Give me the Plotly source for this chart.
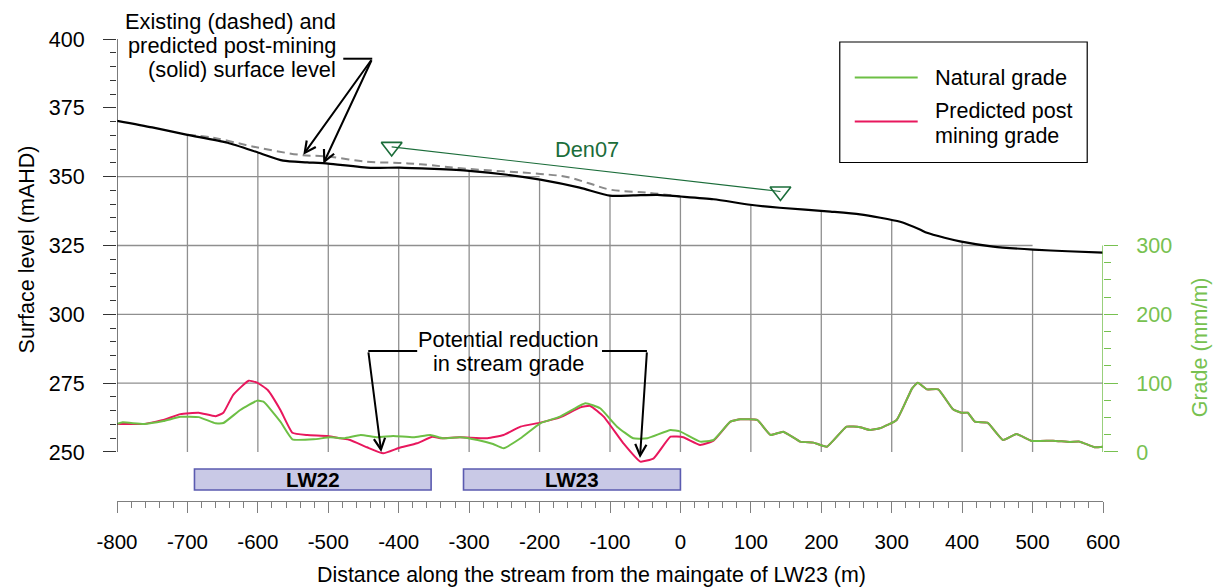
import numpy as np
import plotly.graph_objects as go

# ---------------- data ----------------
# Surface level (mAHD)
surf_x = [-800, -750, -700, -643, -599, -564, -530, -500, -440, -399, -350, -300, -246, -199,
          -143, -100, -67, -33, 0, 47, 99, 141, 213, 255, 312, 340, 350, 375, 397, 444, 501, 550, 600]
surf_post = [370.3, 367.9, 365.2, 362.3, 358.7, 355.8, 355.2, 354.7, 353.2, 353.3, 352.8, 352.1, 350.7, 348.9,
             346.0, 343.1, 343.2, 343.4, 342.8, 341.8, 339.8, 338.7, 337.3, 336.3, 333.6, 330.8, 329.6, 327.8,
             326.5, 324.6, 323.5, 322.9, 322.4]

exist_x = [-700, -663, -606, -540, -500, -445, -400, -369, -300, -199, -161, -130, -100, -47, 0]
exist_y = [365.2, 364.1, 360.9, 357.9, 357.3, 355.4, 355.0, 354.5, 352.8, 351.0, 349.9, 347.6, 345.3, 344.2, 342.8]

# Grade (mm/m)
nat_x = [-800, -792, -762, -734, -710, -684, -660, -649, -625, -601, -592, -568, -551, -521, -497, -478,
         -454, -430, -408, -379, -355, -337, -313, -288, -266, -251, -227, -199, -171, -135, -114, -90,
         -67, -47, -14, 0, 28, 47, 71, 85, 109, 128, 146, 170, 189, 208, 236, 255, 269, 283, 307, 329,
         337, 350, 366, 387, 399, 408, 418, 436, 458, 477, 499, 529, 553, 567, 588, 600]
nat_g = [40.7, 43, 40.7, 45, 51, 50.6, 41.6, 42, 61, 74.6, 73, 44, 18.4, 18.4, 21.3, 19.9,
         24.7, 21.4, 23.3, 21.4, 24.7, 19.9, 21.4, 17.4, 11.6, 5.4, 19.9, 41.7, 51.3, 70.8, 63.5, 36.8,
         19.9, 19.9, 32, 29.5, 15, 17.4, 44, 47.5, 46.5, 24.7, 29.5, 15, 13.6, 7.7, 36.8, 35.9, 32, 34.4, 46.5, 92.5,
         100.7, 91, 91, 62, 57, 57, 44, 42.6, 17.4, 26, 16, 16.4, 14.5, 15, 6.8, 7.7]

pred_x = [-800, -762, -734, -710, -684, -660, -649, -635, -613, -601, -586, -568, -551, -530, -501, -483,
          -469, -445, -422, -400, -374, -352, -341, -313, -274, -251, -227, -199, -171, -142, -128, -109,
          -81, -57, -38, -14, 4, 28, 47, 71, 85, 109, 128, 146, 170, 189, 208, 236, 255, 269, 283, 307,
          329, 337, 350, 366, 387, 399, 408, 418, 436, 458, 477, 499, 529, 553, 567, 588, 600]
pred_g = [40.7, 40.7, 46.5, 55, 57, 52, 57, 83, 103.6, 100.7, 90, 61, 28, 24.7, 23.3, 19.9,
          17.4, 6.8, -2, 5.8, 12.6, 22, 19.9, 21.4, 19.9, 24.7, 36.8, 42.6, 50.2, 64.8, 66.9, 51.3,
          12.6, -14, -9.2, 22.2, 21.4, 10.2, 16.4, 44, 47.5, 46.5, 24.7, 29.5, 15, 13.6, 7.7, 36.8, 35.9, 32, 34.4, 46.5,
          92.5, 100.7, 91, 91, 62, 57, 57, 44, 42.6, 17.4, 26, 16, 16.4, 14.5, 15, 6.8, 7.7]

den07_x = [-410, 142]
den07_y = [360.8, 344.6]

panel_names = ["LW22", "LW23"]
panel_start = [-690, -308]
panel_end = [-354, 0]

x_ticks = list(range(-800, 601, 100))
x_ticktext = [str(v) for v in x_ticks]
y_ticks = list(range(250, 401, 25))
g_ticks = [0, 100, 200, 300]

# ---------------- layout geometry ----------------
W, H = 1218, 588
L, R, T, B = 116.5, 114.5, 39.3, 87
Y_RANGE = [232.19, 400]
Y2_RANGE = [(Y_RANGE[0] - 250) * 4, (Y_RANGE[1] - 250) * 4]
PW, PH = W - L - R, H - T - B

def paper_x(px):
    return (px - L) / PW

def paper_y(py):
    return (H - B - py) / PH

def data_x(px):
    return -800 + (px - L) * 1400 / PW

def data_y(py):
    return Y_RANGE[1] - (py - T) * (Y_RANGE[1] - Y_RANGE[0]) / PH

FONT = "Liberation Sans, Arial, sans-serif"
GREEN = "#6dbf45"
AXGREEN = "#77c150"
PINK = "#e8175d"
DKGREEN = "#1b6d3a"
GRID = "#8f8f8f"
TXT = 21.8

fig = go.Figure()

fig.add_trace(go.Scatter(x=exist_x, y=exist_y, mode="lines", line=dict(color="#8a8a8a", width=2, dash="8px,5px"),
                         line_shape="spline", showlegend=False, hoverinfo="skip"))
fig.add_trace(go.Scatter(x=surf_x, y=surf_post, mode="lines", line=dict(color="black", width=2.2, shape="spline", smoothing=0.6),
                         showlegend=False))
fig.add_trace(go.Scatter(x=den07_x, y=den07_y, mode="lines+markers", line=dict(color=DKGREEN, width=1.1),
                         marker=dict(symbol="triangle-down-open", size=18, color=DKGREEN, line=dict(width=1.6, color=DKGREEN)),
                         showlegend=False, cliponaxis=False))
fig.add_trace(go.Scatter(x=pred_x, y=pred_g, yaxis="y2", mode="lines", line=dict(color=PINK, width=2, shape="spline", smoothing=0.4),
                         name="Predicted post<br>mining grade", showlegend=False))
fig.add_trace(go.Scatter(x=nat_x, y=nat_g, yaxis="y2", mode="lines", line=dict(color=GREEN, width=2, shape="spline", smoothing=0.4),
                         name="Natural grade", showlegend=False))

shapes = []
# grid under the surface
for gx in range(-700, 501, 100):
    top = float(np.interp(gx, surf_x, surf_post))
    shapes.append(dict(type="line", xref="x", yref="y", x0=gx, x1=gx, y0=250, y1=top,
                       line=dict(color=GRID, width=1.3), layer="below"))
for lvl in [275, 300, 325, 350]:
    end = 600
    for gx in range(-700, 601, 100):
        if np.interp(gx, surf_x, surf_post) < lvl:
            end = gx
            break
    shapes.append(dict(type="line", xref="x", yref="y", x0=-800, x1=end, y0=lvl, y1=lvl,
                       line=dict(color=GRID, width=1.3), layer="below"))
# axis lines
shapes.append(dict(type="line", xref="x", yref="y", x0=-800, x1=-800, y0=250, y1=400, line=dict(color="#333333", width=1.3)))
shapes.append(dict(type="line", xref="x", yref="y2", x0=600, x1=600, y0=0, y1=300, line=dict(color=AXGREEN, width=1.5)))
# longwall panels
for nm, a, b in zip(panel_names, panel_start, panel_end):
    shapes.append(dict(type="rect", xref="x", yref="y", x0=a, x1=b, y0=data_y(490), y1=data_y(469),
                       fillcolor="#c9c9e6", line=dict(color="#5b5bb0", width=1.6)))
# legend box
shapes.append(dict(type="rect", xref="paper", yref="paper", x0=paper_x(840), x1=paper_x(1087.7),
                   y0=paper_y(162.7), y1=paper_y(42.3), fillcolor="white", line=dict(color="black", width=1.2)))
shapes.append(dict(type="line", xref="paper", yref="paper", x0=paper_x(855), x1=paper_x(918),
                   y0=paper_y(77.7), y1=paper_y(77.7), line=dict(color=GREEN, width=2)))
shapes.append(dict(type="line", xref="paper", yref="paper", x0=paper_x(855), x1=paper_x(918),
                   y0=paper_y(121.7), y1=paper_y(121.7), line=dict(color=PINK, width=2)))
# callout connectors
for (a, b, yy) in [(343, 372, 59), (368, 417, 351), (602, 647, 351)]:
    shapes.append(dict(type="line", xref="paper", yref="paper", x0=paper_x(a), x1=paper_x(b),
                       y0=paper_y(yy), y1=paper_y(yy), line=dict(color="black", width=2)))

ann = []
def text(px, py, s, size=TXT, color="black", xanchor="center", bold=False, angle=0):
    ann.append(dict(xref="paper", yref="paper", x=paper_x(px), y=paper_y(py), text=("<b>%s</b>" % s) if bold else s,
                    showarrow=False, xanchor=xanchor, yanchor="middle", textangle=angle,
                    font=dict(family=FONT, size=size, color=color)))

def arrow(tail, tip):
    ann.append(dict(xref="x", yref="y", axref="x", ayref="y", x=data_x(tip[0]), y=data_y(tip[1]),
                    ax=data_x(tail[0]), ay=data_y(tail[1]), text="", showarrow=True,
                    arrowhead=5, arrowsize=1.1, arrowwidth=2, arrowcolor="black"))

text(338, 21.7, "Existing (dashed) and", xanchor="right")
text(338, 45.5, "predicted post-mining", xanchor="right")
text(338, 70, "(solid) surface level", xanchor="right")
arrow((372, 59), (303, 155))
arrow((372, 59), (323, 164))

text(508, 340, "Potential reduction")
text(508, 364, "in stream grade")
arrow((368, 351), (381, 452))
arrow((647, 351), (640, 458))

text(587, 150, "Den07", color=DKGREEN)

for nm, a, b in zip(panel_names, panel_start, panel_end):
    ann.append(dict(xref="x", yref="y", x=(a + b) / 2, y=(data_y(490) + data_y(469)) / 2, text="<b>%s</b>" % nm,
                    showarrow=False, font=dict(family=FONT, size=20.5, color="black"), yanchor="middle"))

text(933, 78, "Natural grade", xanchor="left")
text(933, 111.5, "Predicted post", xanchor="left", size=21.5)
text(933, 136, "mining grade", xanchor="left", size=21.5)

text(26, 250, "Surface level (mAHD)", size=21.5, angle=-90)
text(1200, 347, "Grade (mm/m)", size=21.5, color=AXGREEN, angle=-90)
text(591.5, 575, "Distance along the stream from the maingate of LW23 (m)", size=21.4)

fig.update_layout(
    width=W, height=H, margin=dict(l=L, r=R, t=T, b=B, pad=0),
    paper_bgcolor="white", plot_bgcolor="white",
    font=dict(family=FONT, size=21, color="black"),
    shapes=shapes, annotations=ann, showlegend=False,
    xaxis=dict(range=[-800, 600], tickmode="array", tickvals=x_ticks, ticktext=x_ticktext, ticks="outside",
               ticklen=11, tickwidth=1.3,
               tickcolor="#7f7f7f", showline=True, linecolor="#7f7f7f", linewidth=1.3, showgrid=False, zeroline=False,
               tickfont=dict(size=20.5), ticklabelstandoff=11, anchor="y",
               minor=dict(tickmode="array", tickvals=[v for v in range(-800, 601, 20) if v % 100], ticks="outside",
                          ticklen=6, tickwidth=1.1, tickcolor="#7f7f7f")),
    yaxis=dict(range=Y_RANGE, tickmode="array", tickvals=y_ticks, ticks="outside", ticklen=13, tickwidth=1.3,
               tickcolor="#333333", showline=False, showgrid=False, zeroline=False, tickfont=dict(size=21.5),
               ticklabelstandoff=14,
               minor=dict(tickmode="array", tickvals=[v for v in range(250, 401, 5) if v % 25], ticks="outside",
                          ticklen=6, tickwidth=1.1, tickcolor="#333333")),
    yaxis2=dict(range=Y2_RANGE, overlaying="y", side="right", anchor="x", tickmode="array", tickvals=g_ticks,
                ticks="outside", ticklen=14, tickwidth=1.4, tickcolor=AXGREEN, showline=False, showgrid=False,
                zeroline=False, tickfont=dict(size=21.5, color=AXGREEN), ticklabelstandoff=14,
                minor=dict(tickmode="array", tickvals=[v for v in range(0, 301, 25) if v % 100], ticks="outside",
                           ticklen=7, tickwidth=1.2, tickcolor=AXGREEN)),
)

fig.write_html("out.html")
